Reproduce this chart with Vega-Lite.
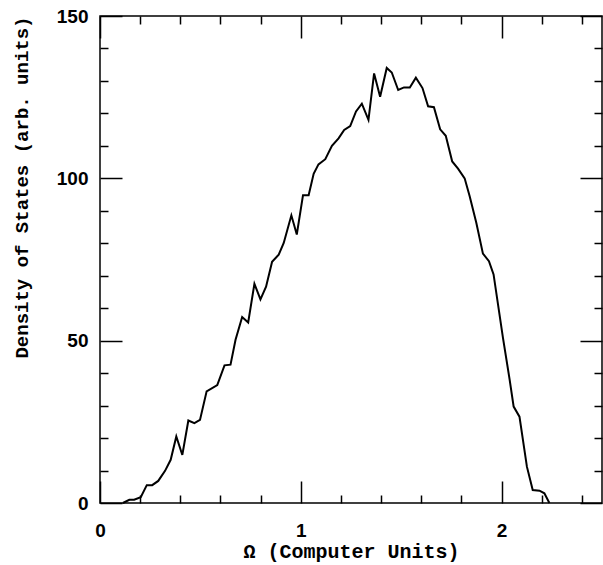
{
  "$schema": "https://vega.github.io/schema/vega-lite/v6.json",
  "width": 502,
  "height": 487,
  "autosize": {"type": "none"},
  "padding": {"left": 100, "top": 16, "right": 1, "bottom": 62},
  "background": "white",
  "config": {
    "view": {"stroke": "black", "strokeWidth": 1.5},
    "axis": {"grid": false, "domain": false, "tickColor": "black", "tickWidth": 1.5, "labelColor": "black", "titleColor": "black", "labelFlush": false}
  },
  "data": {"values": [
    {"w": 0.114, "dos": 0}, {"w": 0.146, "dos": 1}, {"w": 0.17, "dos": 1}, {"w": 0.203, "dos": 1.8},
    {"w": 0.233, "dos": 5.5}, {"w": 0.26, "dos": 5.5}, {"w": 0.29, "dos": 6.8}, {"w": 0.324, "dos": 9.9},
    {"w": 0.352, "dos": 13.3}, {"w": 0.38, "dos": 20.5}, {"w": 0.41, "dos": 14.8}, {"w": 0.44, "dos": 25.4},
    {"w": 0.47, "dos": 24.6}, {"w": 0.498, "dos": 25.6}, {"w": 0.531, "dos": 34.4}, {"w": 0.584, "dos": 36.3},
    {"w": 0.62, "dos": 42.4}, {"w": 0.65, "dos": 42.6}, {"w": 0.675, "dos": 50.3}, {"w": 0.708, "dos": 57.3},
    {"w": 0.738, "dos": 55.6}, {"w": 0.769, "dos": 67.5}, {"w": 0.799, "dos": 62.7}, {"w": 0.827, "dos": 66.6},
    {"w": 0.857, "dos": 74.3}, {"w": 0.89, "dos": 76.5}, {"w": 0.915, "dos": 80.1}, {"w": 0.953, "dos": 88.6},
    {"w": 0.98, "dos": 82.7}, {"w": 1.011, "dos": 94.8}, {"w": 1.039, "dos": 94.8}, {"w": 1.064, "dos": 101.4},
    {"w": 1.088, "dos": 104.3}, {"w": 1.122, "dos": 105.9}, {"w": 1.155, "dos": 110}, {"w": 1.188, "dos": 112.3},
    {"w": 1.216, "dos": 114.9}, {"w": 1.246, "dos": 116.1}, {"w": 1.275, "dos": 120.6}, {"w": 1.304, "dos": 123},
    {"w": 1.337, "dos": 118}, {"w": 1.365, "dos": 132.3}, {"w": 1.395, "dos": 125.1}, {"w": 1.428, "dos": 134},
    {"w": 1.453, "dos": 132.6}, {"w": 1.485, "dos": 127.2}, {"w": 1.514, "dos": 128}, {"w": 1.543, "dos": 128},
    {"w": 1.573, "dos": 131}, {"w": 1.606, "dos": 127.8}, {"w": 1.634, "dos": 122.2}, {"w": 1.663, "dos": 121.9},
    {"w": 1.694, "dos": 115.1}, {"w": 1.722, "dos": 113.1}, {"w": 1.754, "dos": 105.2}, {"w": 1.783, "dos": 103},
    {"w": 1.816, "dos": 100}, {"w": 1.841, "dos": 94.5}, {"w": 1.874, "dos": 86.3}, {"w": 1.907, "dos": 76.8},
    {"w": 1.937, "dos": 74.5}, {"w": 1.96, "dos": 70.4}, {"w": 2.007, "dos": 50.8}, {"w": 2.04, "dos": 38},
    {"w": 2.06, "dos": 29.7}, {"w": 2.089, "dos": 26.6}, {"w": 2.126, "dos": 11.2}, {"w": 2.155, "dos": 4},
    {"w": 2.189, "dos": 3.8}, {"w": 2.213, "dos": 3}, {"w": 2.238, "dos": 0}
  ]},
  "resolve": {"axis": {"x": "independent", "y": "independent"}},
  "layer": [
    {
      "mark": {"type": "line", "color": "black", "strokeWidth": 2},
      "encoding": {
        "x": {"field": "w", "type": "quantitative", "scale": {"domain": [0, 2.5], "nice": false, "zero": false},
          "axis": {"orient": "bottom", "values": [0, 1, 2], "format": "d", "ticks": false, "labelPadding": 18,
            "labelFont": "Liberation Sans", "labelFontSize": 19, "labelFontWeight": "bold",
            "title": "Ω  (Computer Units)", "titleFont": "Liberation Mono", "titleFontSize": 20, "titleFontWeight": "bold", "titlePadding": 1}},
        "y": {"field": "dos", "type": "quantitative", "scale": {"domain": [0, 150], "nice": false},
          "axis": {"orient": "left", "values": [0, 50, 100, 150], "ticks": false, "labelPadding": 12,
            "labelFont": "Liberation Sans", "labelFontSize": 19, "labelFontWeight": "bold",
            "title": "Density of States (arb. units)", "titleFont": "Liberation Mono", "titleFontSize": 19, "titleFontWeight": "bold",
            "titleAnchor": "end", "titlePadding": 25}}
      }
    },
    {
      "mark": {"type": "line", "opacity": 0},
      "encoding": {
        "x": {"field": "w", "type": "quantitative", "axis": {"orient": "bottom", "values": [0, 1, 2], "tickSize": 22, "offset": -22, "labels": false, "title": null}},
        "y": {"field": "dos", "type": "quantitative", "axis": {"orient": "left", "values": [0, 50, 100, 150], "tickSize": 22, "offset": -22, "labels": false, "title": null}}
      }
    },
    {
      "mark": {"type": "line", "opacity": 0},
      "encoding": {
        "x": {"field": "w", "type": "quantitative", "axis": {"orient": "bottom", "values": [0.2, 0.4, 0.6, 0.8, 1.2, 1.4, 1.6, 1.8, 2.2, 2.4], "tickSize": 8, "offset": -8, "labels": false, "title": null}},
        "y": {"field": "dos", "type": "quantitative", "axis": {"orient": "left", "values": [10, 20, 30, 40, 60, 70, 80, 90, 110, 120, 130, 140], "tickSize": 8, "offset": -8, "labels": false, "title": null}}
      }
    },
    {
      "mark": {"type": "line", "opacity": 0},
      "encoding": {
        "x": {"field": "w", "type": "quantitative", "axis": {"orient": "top", "values": [0, 1, 2], "tickSize": 22, "offset": -22, "labels": false, "title": null}},
        "y": {"field": "dos", "type": "quantitative", "axis": {"orient": "right", "values": [0, 50, 100, 150], "tickSize": 22, "offset": -22, "labels": false, "title": null}}
      }
    },
    {
      "mark": {"type": "line", "opacity": 0},
      "encoding": {
        "x": {"field": "w", "type": "quantitative", "axis": {"orient": "top", "values": [0.2, 0.4, 0.6, 0.8, 1.2, 1.4, 1.6, 1.8, 2.2, 2.4], "tickSize": 8, "offset": -8, "labels": false, "title": null}},
        "y": {"field": "dos", "type": "quantitative", "axis": {"orient": "right", "values": [10, 20, 30, 40, 60, 70, 80, 90, 110, 120, 130, 140], "tickSize": 8, "offset": -8, "labels": false, "title": null}}
      }
    }
  ]
}
